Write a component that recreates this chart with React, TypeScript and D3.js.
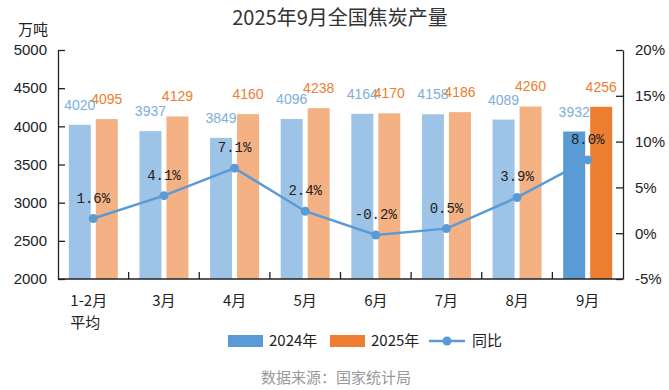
import { useEffect, useRef } from "react";
import * as d3 from "d3";

const categories = ["1-2月\n平均", "3月", "4月", "5月", "6月", "7月", "8月", "9月"];
const output2024 = [4020, 3937, 3849, 4096, 4164, 4158, 4089, 3932];
const output2025 = [4095, 4129, 4160, 4238, 4170, 4186, 4260, 4256];
const yoy = [1.6, 4.1, 7.1, 2.4, -0.2, 0.5, 3.9, 8.0];
const leftTicks = [2000, 2500, 3000, 3500, 4000, 4500, 5000];
const rightTicks = [-5, 0, 5, 10, 15, 20];

const W = 669;
const H = 390;

const App = () => {
    const ref = useRef(null);

    useEffect(() => {
        const svg = d3.select(ref.current);
        svg.selectAll("*").remove();

        const marginLeft = 58;
        const marginRight = 46;
        const top = 50;
        const bottom = 279;

        const numFont = "'Liberation Sans', Arial, sans-serif";
        const cjkFont = "'Noto Sans CJK SC', sans-serif";
        const monoFont = "'Liberation Mono', 'DejaVu Sans Mono', monospace";

        const x = d3.scaleBand().domain(categories).range([marginLeft, W - marginRight]);
        const yL = d3.scaleLinear().domain([2000, 5000]).range([bottom, top]);
        const yR = d3.scaleLinear().domain([-5, 20]).range([bottom, top]);

        const barW = 22;
        const gap = 5;
        const lightBlue = "#9dc3e6";
        const lightOrange = "#f4b183";
        const blue = "#5b9bd5";
        const orange = "#ed7d31";
        const last = categories.length - 1;

        // title
        svg.append("text")
            .attr("x", 340).attr("y", 25)
            .attr("text-anchor", "middle")
            .attr("font-family", cjkFont)
            .attr("font-size", 20)
            .attr("fill", "#333")
            .text("2025年9月全国焦炭产量");

        svg.append("text")
            .attr("x", 18).attr("y", 35)
            .attr("font-family", cjkFont)
            .attr("font-size", 15)
            .attr("fill", "#222")
            .text("万吨");

        // bars
        const cx = (i) => x(categories[i]) + x.bandwidth() / 2;

        svg.append("g").selectAll("rect")
            .data(output2024)
            .join("rect")
            .attr("x", (d, i) => cx(i) - gap / 2 - barW)
            .attr("y", d => yL(d))
            .attr("width", barW)
            .attr("height", d => yL(2000) - yL(d))
            .attr("fill", (d, i) => i === last ? blue : lightBlue);

        svg.append("g").selectAll("rect")
            .data(output2025)
            .join("rect")
            .attr("x", (d, i) => cx(i) + gap / 2)
            .attr("y", d => yL(d))
            .attr("width", barW)
            .attr("height", d => yL(2000) - yL(d))
            .attr("fill", (d, i) => i === last ? orange : lightOrange);

        // axes
        const axisL = svg.append("g")
            .attr("transform", `translate(${marginLeft},0)`)
            .call(d3.axisLeft(yL).tickValues(leftTicks).tickSize(-7).tickSizeOuter(0).tickPadding(11)
                .tickFormat(d3.format("d")));
        axisL.selectAll("text").attr("font-family", numFont).attr("font-size", 15).attr("fill", "#222");
        axisL.selectAll("line, path").attr("stroke", "#222").attr("stroke-width", 1.3);

        const axisR = svg.append("g")
            .attr("transform", `translate(${W - marginRight},0)`)
            .call(d3.axisRight(yR).tickValues(rightTicks).tickSize(-7).tickSizeOuter(0).tickPadding(12)
                .tickFormat(d => `${d}%`));
        axisR.selectAll("text").attr("font-family", numFont).attr("font-size", 15).attr("fill", "#222");
        axisR.selectAll("line, path").attr("stroke", "#222").attr("stroke-width", 1.3);

        const xBounds = categories.slice(1).map(c => x(c));
        const axisB = svg.append("g");
        axisB.append("line")
            .attr("x1", marginLeft).attr("x2", W - marginRight)
            .attr("y1", bottom).attr("y2", bottom)
            .attr("stroke", "#222").attr("stroke-width", 1.5);
        axisB.selectAll(".tk")
            .data(xBounds)
            .join("line")
            .attr("x1", d => d).attr("x2", d => d)
            .attr("y1", bottom).attr("y2", bottom - 7)
            .attr("stroke", "#222").attr("stroke-width", 1.3);

        categories.forEach((c, i) => {
            const lines = c.split("\n");
            const t = svg.append("text")
                .attr("font-family", cjkFont)
                .attr("font-size", 15)
                .attr("fill", "#222");
            if (lines.length > 1) {
                const left = cx(i) - 23;
                lines.forEach((l, j) => {
                    t.append("tspan").attr("x", left).attr("y", 306 + j * 22).text(l);
                });
            } else {
                t.attr("x", cx(i)).attr("y", 306).attr("text-anchor", "middle").text(c);
            }
        });

        // value labels
        svg.append("g").selectAll("text")
            .data(output2024)
            .join("text")
            .attr("x", (d, i) => cx(i) - gap / 2 - barW / 2)
            .attr("y", d => yL(d) - 15)
            .attr("text-anchor", "middle")
            .attr("font-family", numFont)
            .attr("font-size", 14)
            .attr("fill", "#7eaedc")
            .text(d => d);

        svg.append("g").selectAll("text")
            .data(output2025)
            .join("text")
            .attr("x", (d, i) => cx(i) + gap / 2 + barW / 2)
            .attr("y", d => yL(d) - 15)
            .attr("text-anchor", "middle")
            .attr("font-family", numFont)
            .attr("font-size", 14)
            .attr("fill", "#ed7d31")
            .text(d => d);

        // yoy line
        const line = d3.line().x((d, i) => cx(i)).y(d => yR(d));
        svg.append("path")
            .datum(yoy)
            .attr("d", line)
            .attr("fill", "none")
            .attr("stroke", "#5b9bd5")
            .attr("stroke-width", 2.5);

        svg.append("g").selectAll("circle")
            .data(yoy)
            .join("circle")
            .attr("cx", (d, i) => cx(i))
            .attr("cy", d => yR(d))
            .attr("r", 4.5)
            .attr("fill", "#5b9bd5");

        svg.append("g").selectAll("text")
            .data(yoy)
            .join("text")
            .attr("x", (d, i) => cx(i))
            .attr("y", d => yR(d) - 16)
            .attr("text-anchor", "middle")
            .attr("font-family", monoFont)
            .attr("font-size", 14)
            .attr("fill", "#222")
            .text(d => `${d.toFixed(1)}%`);

        // legend
        const lg = svg.append("g").attr("transform", "translate(0,341)");
        lg.append("rect").attr("x", 228).attr("y", -6).attr("width", 35).attr("height", 12).attr("fill", blue);
        lg.append("text").attr("x", 269).attr("y", 5).attr("font-family", cjkFont).attr("font-size", 15).attr("fill", "#222").text("2024年");
        lg.append("rect").attr("x", 330).attr("y", -6).attr("width", 35).attr("height", 12).attr("fill", orange);
        lg.append("text").attr("x", 371).attr("y", 5).attr("font-family", cjkFont).attr("font-size", 15).attr("fill", "#222").text("2025年");
        lg.append("line").attr("x1", 429).attr("x2", 465).attr("y1", 0).attr("y2", 0).attr("stroke", "#5b9bd5").attr("stroke-width", 2.5);
        lg.append("circle").attr("cx", 447).attr("cy", 0).attr("r", 4.5).attr("fill", "#5b9bd5");
        lg.append("text").attr("x", 472).attr("y", 5).attr("font-family", cjkFont).attr("font-size", 15).attr("fill", "#222").text("同比");

        svg.append("text")
            .attr("x", 336).attr("y", 383)
            .attr("text-anchor", "middle")
            .attr("font-family", cjkFont)
            .attr("font-size", 15)
            .attr("fill", "#999")
            .text("数据来源：国家统计局");
    }, []);

    return (
        <svg ref={ref} width={W} height={H}
            style={{ position: "absolute", left: 0, top: 0, background: "#fff" }} />
    );
};

export default App;
